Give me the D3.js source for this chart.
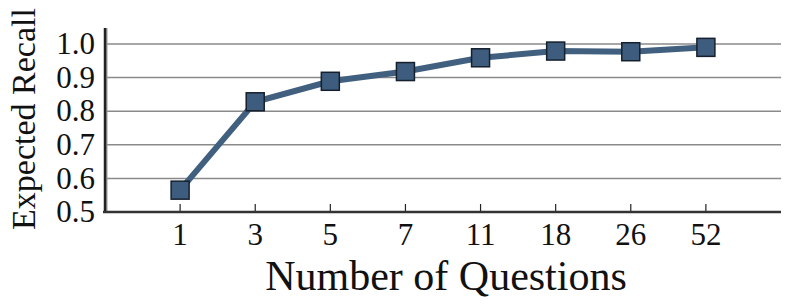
<!DOCTYPE html>
<html>
<head>
<meta charset="utf-8">
<script src="https://cdn.jsdelivr.net/npm/d3@7"></script>
<style>
  body { margin: 0; background: #fff; }
  svg text { font-family: "Palatino Linotype", "Book Antiqua", Palatino, "Liberation Serif", serif; fill: #111; }
</style>
</head>
<body>
<svg id="chart" width="789" height="304"></svg>
<script>
// data
const questions = ["1", "3", "5", "7", "11", "18", "26", "52"];
const recall = [0.565, 0.828, 0.889, 0.918, 0.959, 0.979, 0.977, 0.990];
const yTicks = [0.5, 0.6, 0.7, 0.8, 0.9, 1.0];

const svg = d3.select("#chart");
const plotLeft = 105, plotRight = 781, plotTop = 28, plotBottom = 212;

const x = d3.scalePoint().domain(questions).range([plotLeft, plotRight]).padding(1);
const y = d3.scaleLinear().domain([0.5, 1.0]).range([plotBottom, 44]);

// gridlines
svg.append("g").selectAll("line")
    .data(yTicks.slice(1))
    .enter().append("line")
    .attr("x1", plotLeft).attr("x2", plotRight)
    .attr("y1", d => y(d)).attr("y2", d => y(d))
    .attr("stroke", "#8a8a8a").attr("stroke-width", 1.5);

// x ticks (pointing up)
svg.append("g").selectAll("line")
    .data(questions)
    .enter().append("line")
    .attr("x1", d => x(d)).attr("x2", d => x(d))
    .attr("y1", plotBottom).attr("y2", plotBottom - 8)
    .attr("stroke", "#222").attr("stroke-width", 1.2);

// axes lines
svg.append("line")
    .attr("x1", plotLeft + 1.5).attr("x2", plotLeft + 1.5).attr("y1", plotTop).attr("y2", plotBottom + 1)
    .attr("stroke", "#999").attr("stroke-width", 2);
svg.append("line")
    .attr("x1", plotLeft).attr("x2", plotLeft).attr("y1", plotTop).attr("y2", plotBottom + 1)
    .attr("stroke", "#222").attr("stroke-width", 2.5);
svg.append("line")
    .attr("x1", plotLeft - 2).attr("x2", plotRight).attr("y1", plotBottom).attr("y2", plotBottom)
    .attr("stroke", "#333").attr("stroke-width", 2.5);

// y tick labels
svg.append("g").selectAll("text")
    .data(yTicks)
    .enter().append("text")
    .attr("x", plotLeft - 10)
    .attr("y", d => y(d))
    .attr("dy", "0.33em")
    .attr("text-anchor", "end")
    .style("font-size", "31px")
    .text(d => d.toFixed(1));

// x tick labels
svg.append("g").selectAll("text")
    .data(questions)
    .enter().append("text")
    .attr("x", d => x(d))
    .attr("y", 245)
    .attr("text-anchor", "middle")
    .style("font-size", "31px")
    .text(d => d);

// axis titles
svg.append("text")
    .attr("x", (plotLeft + plotRight) / 2 + 3)
    .attr("y", 290)
    .attr("text-anchor", "middle")
    .style("font-size", "42px")
    .text("Number of Questions");

svg.append("text")
    .attr("transform", "translate(35,119) rotate(-90)")
    .attr("text-anchor", "middle")
    .style("font-size", "34px")
    .text("Expected Recall");

// line + markers
const pts = questions.map((q, i) => ({ q, v: recall[i] }));
svg.append("path")
    .datum(pts)
    .attr("fill", "none")
    .attr("stroke", "#41607f")
    .attr("stroke-width", 6)
    .attr("d", d3.line().x(d => x(d.q)).y(d => y(d.v)));

const s = 18;
svg.append("g").selectAll("rect")
    .data(pts)
    .enter().append("rect")
    .attr("x", d => x(d.q) - s / 2)
    .attr("y", d => y(d.v) - s / 2)
    .attr("width", s).attr("height", s)
    .attr("fill", "#3e5c7e")
    .attr("stroke", "#15202c")
    .attr("stroke-width", 1.5);
</script>
</body>
</html>
